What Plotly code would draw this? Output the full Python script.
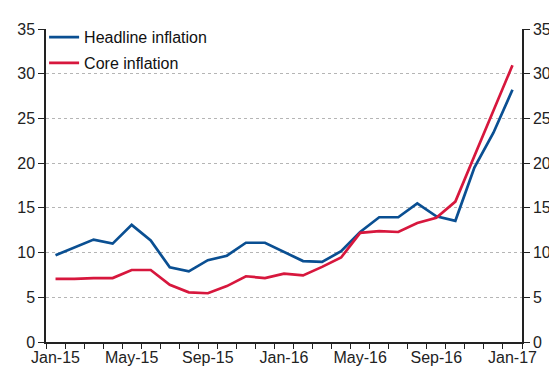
import plotly.graph_objects as go

months = ["Jan-15","Feb-15","Mar-15","Apr-15","May-15","Jun-15","Jul-15","Aug-15","Sep-15","Oct-15","Nov-15","Dec-15",
          "Jan-16","Feb-16","Mar-16","Apr-16","May-16","Jun-16","Jul-16","Aug-16","Sep-16","Oct-16","Nov-16","Dec-16","Jan-17"]
headline = [9.7, 10.6, 11.45, 11.0, 13.1, 11.35, 8.35, 7.9, 9.15, 9.65, 11.1, 11.1,
            10.1, 9.05, 8.95, 10.15, 12.3, 13.95, 13.95, 15.5, 14.05, 13.55, 19.5, 23.4, 28.2]
core = [7.05, 7.05, 7.15, 7.15, 8.05, 8.05, 6.4, 5.55, 5.45, 6.25, 7.35, 7.15,
        7.65, 7.45, 8.4, 9.45, 12.2, 12.4, 12.3, 13.3, 13.9, 15.7, 20.8, 25.9, 30.95]
tick_labels = ["Jan-15", "May-15", "Sep-15", "Jan-16", "May-16", "Sep-16", "Jan-17"]
y_ticks = [0, 5, 10, 15, 20, 25, 30, 35]

x = list(range(len(months)))
tick_pos = [months.index(t) for t in tick_labels]
bounds = [i - 0.5 for i in range(len(months) + 1)]

BLUE = "#0A4F92"
RED = "#D7173D"
FONT = "Liberation Sans, Arial, sans-serif"

# The page body has an 8px default margin, so the figure is sized to fit the window from (8, 8).
fig = go.Figure()
fig.add_trace(go.Scatter(x=x, y=headline, mode="lines", name="Headline inflation", legendgroup="a",
                         line=dict(color=BLUE, width=2.7)))
fig.add_trace(go.Scatter(x=x, y=core, mode="lines", name="Core inflation", legendgroup="b",
                         line=dict(color=RED, width=2.7)))
fig.add_trace(go.Scatter(x=[None], y=[None], yaxis="y2", showlegend=False, hoverinfo="skip"))

fig.update_layout(
    width=549, height=361,
    margin=dict(l=38, r=35, t=12, b=27),
    paper_bgcolor="white", plot_bgcolor="white",
    font=dict(family=FONT, size=16, color="#222222"),
    showlegend=True,
    legend=dict(x=-0.004, y=1.028, xanchor="left", yanchor="top", bgcolor="rgba(0,0,0,0)",
                font=dict(size=16, color="#111111"), itemwidth=30, tracegroupgap=2),
    xaxis=dict(range=[-0.5, len(months) - 0.5], tickmode="array", tickvals=tick_pos, ticktext=tick_labels,
               ticks="", showgrid=False, zeroline=False, showline=True, linecolor="#222222", linewidth=1.5,
               automargin=False,
               minor=dict(tickmode="array", tickvals=bounds, ticks="outside", ticklen=5, tickcolor="#222222",
                          tickwidth=1, showgrid=False),
               tickfont=dict(size=16)),
    yaxis=dict(range=[0, 35], tickvals=y_ticks, ticks="outside", ticklen=6, tickcolor="#222222",
               showline=True, linecolor="#222222", linewidth=1.5, showgrid=True, gridcolor="#b5b5b5",
               griddash="dot", gridwidth=1, zeroline=False, tickfont=dict(size=16), automargin=False),
    yaxis2=dict(range=[0, 35], tickvals=y_ticks, overlaying="y", side="right", ticks="outside", ticklen=6,
                tickcolor="#222222", showline=True, linecolor="#222222", linewidth=1.5, showgrid=False,
                zeroline=False, tickfont=dict(size=16), automargin=False),
)

fig.write_html("out.html")
